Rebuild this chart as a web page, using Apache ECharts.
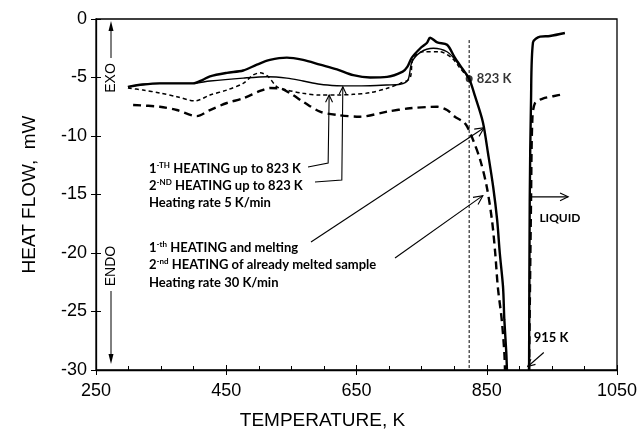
<!DOCTYPE html>
<html>
<head>
<meta charset="utf-8">
<script src="https://cdn.jsdelivr.net/npm/echarts@6/dist/echarts.min.js"></script>
<style>
html, body { margin: 0; padding: 0; background: #fff; }
#chart { width: 641px; height: 441px; }
</style>
</head>
<body>
<div id="chart"></div>
<script>
// temperature (K) / heat flow (mW)
const firstHeatSlow = [[299, -5.9], [322, -6.07], [348, -6.32], [374, -6.64], [402, -7.0], [425, -6.5], [451, -6.07], [476, -5.5], [491, -4.8], [502, -4.6], [514, -4.9], [528, -5.8], [543, -6.07], [568, -6.35], [594, -6.5], [620, -6.5], [645, -6.44], [671, -6.3], [697, -5.92], [717, -5.5], [732, -5.07], [737, -3.33], [752, -2.8], [778, -2.8], [797, -3.36], [809, -4.2], [823, -5.1]]
const secondHeatSlow = [[299, -5.8], [322, -5.6], [348, -5.5], [374, -5.5], [399, -5.5], [425, -5.3], [476, -5.05], [513, -4.93], [543, -5.05], [568, -5.3], [594, -5.58], [620, -5.7], [645, -5.72], [671, -5.7], [697, -5.64], [717, -5.58], [729, -5.2], [735, -3.7], [748, -2.85], [768, -2.5], [789, -2.8], [804, -3.65], [823, -5.1]]
const firstHeatFast = [[299, -5.8], [322, -5.6], [348, -5.5], [374, -5.5], [399, -5.5], [414, -5.2], [425, -4.9], [451, -4.6], [476, -4.4], [497, -3.9], [517, -3.5], [543, -3.3], [568, -3.5], [594, -3.9], [620, -4.3], [645, -4.8], [671, -5.0], [697, -4.95], [721, -4.5], [728, -4.1], [735, -3.3], [748, -2.5], [758, -2.05], [763, -1.6], [774, -2.0], [789, -2.2], [801, -3.3], [812, -4.2], [823, -5.1], [832, -6.6], [844, -8.8], [852, -11.5], [860, -14.4], [866, -17.2], [870, -20], [875, -22.9], [877, -25.7], [880, -28.5], [881, -30], [898, '-'], [915, -30], [916, -15.5], [918, -6.9], [921, -2.0], [932, -1.5], [947, -1.45], [970, -1.2]]
const secondHeatFast = [[307, -7.35], [348, -7.5], [374, -7.78], [405, -8.3], [425, -7.78], [451, -7.18], [476, -6.78], [502, -6.15], [517, -5.9], [533, -5.94], [548, -6.35], [568, -7.07], [594, -7.92], [620, -8.2], [655, -8.35], [697, -7.92], [732, -7.63], [774, -7.5], [789, -7.78], [801, -8.35], [814, -8.78], [820, -9.2], [829, -10.34], [840, -12.05], [850, -14.33], [858, -17.18], [863, -20], [867, -22.9], [873, -25.7], [877, -28.5], [878, -30], [896, '-'], [915, -30], [918, -15.5], [920, -8.6], [924, -7.2], [936, -6.8], [952, -6.6], [970, -6.4]]

const stopTemp = 823
const stopFlow = -5.1
const stopLine = [[stopTemp, -1.8], [stopTemp, -30]]
const meltTemp = 915

const xMin = 250, xMax = 1050, xStep = 200
const yMin = -30, yMax = 0, yStep = 5

let chart = echarts.init(document.getElementById('chart'))
let axisFont = 'Liberation Sans'
let noteFont = 'Lato'

let option = {
  animation: false,
  grid: { left: 96, right: 24, top: 19, bottom: 71, show: true, borderColor: '#000', borderWidth: 1.3 },
  xAxis: [
    {
      type: 'value', min: xMin, max: xMax, interval: xStep,
      axisLine: { onZero: false, lineStyle: { color: '#000', width: 1.3 } },
      axisTick: { inside: true, length: 5, lineStyle: { color: '#000' } },
      minorTick: { show: true, splitNumber: 4, length: 4, lineStyle: { color: '#000' } },
      splitLine: { show: false },
      axisLabel: { color: '#000', fontSize: 18, fontFamily: axisFont, margin: 12, formatter: v => String(v) },
      name: 'TEMPERATURE, K', nameLocation: 'middle', nameGap: 41,
      nameTextStyle: { color: '#000', fontSize: 19, fontFamily: axisFont, padding: [0, 68, 0, 0] }
    },
    {
      type: 'value', min: xMin, max: xMax, interval: xStep, position: 'bottom',
      axisLine: { show: false, onZero: false },
      axisTick: { inside: false, length: 5, lineStyle: { color: '#000' } },
      axisLabel: { show: false }, splitLine: { show: false }
    }
  ],
  yAxis: [
    {
      type: 'value', min: yMin, max: yMax, interval: yStep,
      axisLine: { show: true, onZero: false, lineStyle: { color: '#000', width: 1.3 } },
      axisTick: { show: true, inside: true, length: 5, lineStyle: { color: '#000' } },
      splitLine: { show: false },
      axisLabel: { color: '#000', fontSize: 18, fontFamily: axisFont, margin: 9, formatter: v => String(v) },
      name: 'HEAT FLOW,  mW', nameLocation: 'middle', nameGap: 57,
      nameTextStyle: { color: '#000', fontSize: 19, fontFamily: axisFont }
    },
    {
      type: 'value', min: yMin, max: yMax, interval: yStep, position: 'left',
      axisLine: { show: false, onZero: false },
      axisTick: { show: true, inside: false, length: 5, lineStyle: { color: '#000' } },
      axisLabel: { show: false }, splitLine: { show: false }
    }
  ],
  series: [
    {
      name: '1st heating 5 K/min', type: 'line', data: firstHeatSlow, symbol: 'none', smooth: 0.3,
      lineStyle: { color: '#000', width: 1.5, type: [4, 3] }
    },
    {
      name: '2nd heating 5 K/min', type: 'line', data: secondHeatSlow, symbol: 'none', smooth: 0.3,
      lineStyle: { color: '#000', width: 1.4 }
    },
    {
      name: '1st heating and melting', type: 'line', data: firstHeatFast, symbol: 'none', smooth: 0.3,
      lineStyle: { color: '#000', width: 2.4 }
    },
    {
      name: '2nd heating 30 K/min', type: 'line', data: secondHeatFast, symbol: 'none', smooth: 0.3,
      lineStyle: { color: '#000', width: 2.4, type: [8, 5] }
    },
    {
      type: 'line', data: stopLine, symbol: 'none',
      lineStyle: { color: '#000', width: 1, type: [3, 2] }
    },
    {
      type: 'scatter', data: [[stopTemp, stopFlow]], symbolSize: 7,
      itemStyle: { color: '#000' },
      label: {
        show: true, position: 'right', distance: 4, formatter: stopTemp + ' K',
        color: '#000', fontFamily: noteFont, fontWeight: 'bold', fontSize: 13
      }
    }
  ]
}
chart.setOption(option)

// annotations: arrows and notes
function px(x, y) { return chart.convertToPixel({ gridIndex: 0 }, [x, y]) }

function head(tip, from, size) {
  let a = Math.atan2(tip[1] - from[1], tip[0] - from[0])
  let p1 = [tip[0] - size * Math.cos(a - 0.45), tip[1] - size * Math.sin(a - 0.45)]
  let p2 = [tip[0] - size * Math.cos(a + 0.45), tip[1] - size * Math.sin(a + 0.45)]
  return { type: 'polyline', shape: { points: [p1, tip, p2] }, style: { stroke: '#000', lineWidth: 1.1, fill: null } }
}

function arrow(points, size) {
  let n = points.length
  return [
    { type: 'polyline', shape: { points: points }, style: { stroke: '#000', lineWidth: 1.1, fill: null } },
    head(points[n - 1], points[n - 2], size || 9)
  ]
}

function note(text, x, y) {
  return {
    type: 'text', x: x, y: y,
    style: {
      text: text, fill: '#000', font: 'bold 13px ' + noteFont, textVerticalAlign: 'middle',
      rich: { sup: { fontSize: 8, fontWeight: 'bold', fontFamily: noteFont, verticalAlign: 'top', lineHeight: 16 } }
    }
  }
}

let tipSlow1 = px(608, -6.5)
let tipSlow2 = px(629, -5.8)
let tipFast1 = px(846, -9.3)
let tipFast2 = px(844, -15.1)
let meltTip = px(meltTemp - 2, -29.7)
let liqFrom = px(meltTemp + 2, -15.2)
let liqTo = px(975, -15.2)

let g = []
g.push(note('1{sup|-TH} HEATING up to 823 K', 149, 169))
g.push(note('2{sup|-ND} HEATING up to 823 K', 149, 186))
g.push(note('Heating rate 5 K/min', 149, 203))
g.push(note('1{sup|-th} HEATING and melting', 149, 248))
g.push(note('2{sup|-nd} HEATING of already melted sample', 149, 265))
g.push(note('Heating rate 30 K/min', 149, 283))
g.push(...arrow([[308, 167], [tipSlow1[0] - 1, 163], tipSlow1], 8))
g.push(...arrow([[315, 182], [tipSlow2[0] - 1, 180], tipSlow2], 8))
g.push(...arrow([[311, 242], tipFast1], 10))
g.push(...arrow([[395, 258], tipFast2], 10))
g.push(...arrow([[meltTip[0] + 16, meltTip[1] - 14], meltTip], 8))
g.push(...arrow([liqFrom, liqTo], 9))
g.push({ type: 'text', x: meltTip[0] + 6, y: 338, style: { text: meltTemp + ' K', fill: '#000', font: 'bold 13px ' + noteFont, textVerticalAlign: 'middle' } })
g.push({ type: 'text', x: liqFrom[0] + 9, y: 218, style: { text: 'LIQUID', fill: '#000', font: 'bold 12px ' + noteFont, textVerticalAlign: 'middle' } })

// EXO / ENDO side marks
g.push({ type: 'text', x: 111, y: 78, rotation: Math.PI / 2, style: { text: 'EXO', fill: '#000', font: '14px ' + axisFont, textAlign: 'center', textVerticalAlign: 'middle' } })
g.push({ type: 'line', shape: { x1: 111, y1: 58, x2: 111, y2: 28 }, style: { stroke: '#000', lineWidth: 1 } })
g.push({ type: 'polygon', shape: { points: [[111, 21], [108.5, 31], [113.5, 31]] }, style: { fill: '#000' } })
g.push({ type: 'text', x: 111, y: 266, rotation: Math.PI / 2, style: { text: 'ENDO', fill: '#000', font: '14px ' + axisFont, textAlign: 'center', textVerticalAlign: 'middle' } })
g.push({ type: 'line', shape: { x1: 111, y1: 291, x2: 111, y2: 357 }, style: { stroke: '#000', lineWidth: 1 } })
g.push({ type: 'polygon', shape: { points: [[111, 364], [108.5, 354], [113.5, 354]] }, style: { fill: '#000' } })

chart.setOption({ graphic: g })
</script>
</body>
</html>
